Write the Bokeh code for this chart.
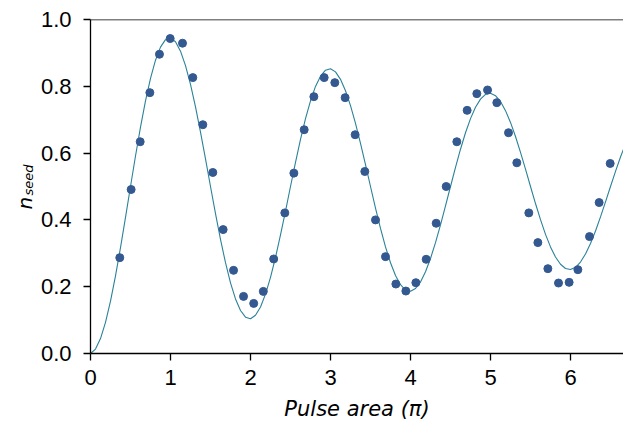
from bokeh.plotting import figure
from bokeh.layouts import row
from bokeh.models import Range1d, FixedTicker, Label, Span, PrintfTickFormatter
from bokeh.embed import file_html
from bokeh.resources import INLINE
import math

# measured data points (pulse area in units of pi, n_seed)
pulse_area = [0.366, 0.508, 0.621, 0.742, 0.862, 0.996, 1.15, 1.279, 1.404, 1.529,
              1.658, 1.788, 1.913, 2.04, 2.16, 2.29, 2.429, 2.542, 2.671, 2.792,
              2.921, 3.054, 3.183, 3.308, 3.429, 3.5625, 3.6875, 3.817, 3.942, 4.067,
              4.196, 4.321, 4.446, 4.579, 4.708, 4.829, 4.963, 5.079, 5.225, 5.329,
              5.479, 5.592, 5.717, 5.85, 5.983, 6.092, 6.2375, 6.358, 6.496]
n_seed = [0.287, 0.491, 0.634, 0.781, 0.896, 0.943, 0.929, 0.826, 0.685, 0.542,
          0.371, 0.249, 0.171, 0.150, 0.186, 0.283, 0.421, 0.540, 0.670, 0.769,
          0.826, 0.811, 0.766, 0.655, 0.545, 0.400, 0.290, 0.208, 0.187, 0.212,
          0.282, 0.390, 0.500, 0.634, 0.728, 0.778, 0.789, 0.751, 0.661, 0.571,
          0.421, 0.332, 0.254, 0.211, 0.213, 0.251, 0.350, 0.452, 0.569]

# fitted curve at steps of 1/16
fit_x = [i / 16 for i in range(108)]
fit_y = [0.0000, 0.0132, 0.0447, 0.0933, 0.1566, 0.2322, 0.3168, 0.4073, 0.5000, 0.5914, 0.6779, 0.7564, 0.8240, 0.8782, 0.9172, 0.9396,
         0.9450, 0.9333, 0.9052, 0.8620, 0.8056, 0.7384, 0.6630, 0.5825, 0.5000, 0.4187, 0.3417, 0.2718, 0.2117, 0.1634, 0.1287, 0.1087,
         0.1040, 0.1144, 0.1394, 0.1778, 0.2280, 0.2878, 0.3549, 0.4266, 0.5000, 0.5724, 0.6409, 0.7031, 0.7566, 0.7996, 0.8304, 0.8482,
         0.8525, 0.8432, 0.8209, 0.7867, 0.7421, 0.6888, 0.6291, 0.5653, 0.5000, 0.4356, 0.3746, 0.3192, 0.2716, 0.2334, 0.2059, 0.1901,
         0.1863, 0.1946, 0.2144, 0.2448, 0.2845, 0.3319, 0.3851, 0.4418, 0.5000, 0.5573, 0.6116, 0.6609, 0.7033, 0.7373, 0.7617, 0.7758,
         0.7792, 0.7719, 0.7542, 0.7271, 0.6918, 0.6496, 0.6023, 0.5518, 0.5000, 0.4490, 0.4007, 0.3568, 0.3191, 0.2888, 0.2671, 0.2545,
         0.2515, 0.2581, 0.2737, 0.2979, 0.3293, 0.3669, 0.4090, 0.4539, 0.5000, 0.5454, 0.5884, 0.6274]

x_ticks = [0, 1, 2, 3, 4, 5, 6]
y_ticks = [0.0, 0.2, 0.4, 0.6, 0.8, 1.0]

TICK_FONT = "Liberation Sans"
LABEL_W = 36

# ---- narrow strip holding the rotated y-axis label n_seed (frame aligned with main plot) ----
lab = figure(width=LABEL_W, height=423, output_backend="svg", toolbar_location=None,
             title=None, x_range=Range1d(0, LABEL_W), y_range=Range1d(0, 1),
             x_axis_location=None, y_axis_location=None, min_border=0)
lab.grid.visible = False
lab.outline_line_color = None
lab.background_fill_color = "white"
lab.border_fill_color = "white"
lab.add_layout(Label(x=24, y=0.431, text="n", angle=math.pi / 2,
                     text_align="left", text_baseline="alphabetic",
                     text_font="DejaVu Sans", text_font_style="italic", text_font_size="20px",
                     text_color="black"))
lab.add_layout(Label(x=27.5, y=0.473, text="seed", angle=math.pi / 2,
                     text_align="left", text_baseline="alphabetic",
                     text_font="DejaVu Sans", text_font_style="italic", text_font_size="13px",
                     text_color="black"))

# ---- main plot ----
p = figure(width=623 - LABEL_W, height=423, output_backend="svg", toolbar_location=None,
           x_range=Range1d(0, 6.6625), y_range=Range1d(0, 1),
           min_border_left=90 - LABEL_W, min_border_right=0, min_border_top=19, min_border_bottom=70)
p.grid.visible = False
p.outline_line_color = None
p.background_fill_color = "white"
p.border_fill_color = "white"

p.line(fit_x, fit_y, line_color="#2a8298", line_width=1.1)
p.scatter(pulse_area, n_seed, size=8, fill_color="#345991", line_color="#345991")

p.add_layout(Span(location=1.0, dimension="width", line_color="black", line_width=1.3))

for ax in (p.xaxis[0], p.yaxis[0]):
    ax.axis_line_color = "black"
    ax.axis_line_width = 1.3
    ax.major_tick_line_color = "black"
    ax.major_tick_line_width = 1.3
    ax.major_tick_out = 7
    ax.major_tick_in = 0
    ax.minor_tick_line_color = None
    ax.major_label_text_font = TICK_FONT
    ax.major_label_text_font_size = "22px"
    ax.major_label_text_color = "black"

p.xaxis[0].major_label_standoff = 9
p.yaxis[0].major_label_standoff = 12

p.xaxis[0].ticker = FixedTicker(ticks=x_ticks)
p.yaxis[0].ticker = FixedTicker(ticks=y_ticks)
p.yaxis[0].formatter = PrintfTickFormatter(format="%.1f")

p.xaxis[0].axis_label = "Pulse area (π)"
p.xaxis[0].axis_label_text_font = "DejaVu Sans"
p.xaxis[0].axis_label_text_font_style = "italic"
p.xaxis[0].axis_label_text_font_size = "21px"
p.xaxis[0].axis_label_text_color = "black"
p.xaxis[0].axis_label_standoff = 9

layout = row(lab, p, spacing=0)
open("out.html", "w").write(file_html(layout, INLINE))
